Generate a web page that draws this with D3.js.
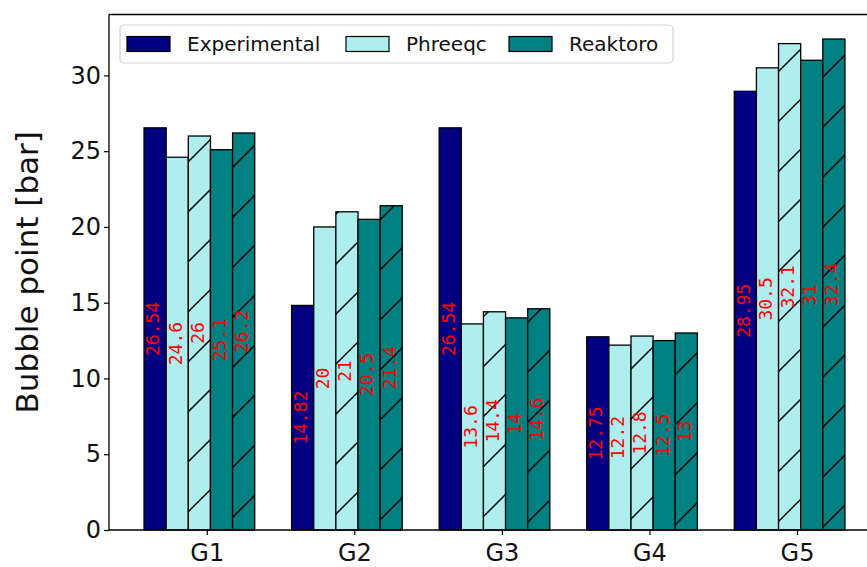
<!DOCTYPE html>
<html>
<head>
<meta charset="utf-8">
<script src="https://cdn.jsdelivr.net/npm/d3@7"></script>
<style>
  html, body { margin: 0; padding: 0; background: #fff; overflow: hidden; }
  svg { display: block; }
</style>
</head>
<body>
<svg id="chart" width="867" height="567"></svg>
<script>
// Bubble point per gas group: experiment versus two model codes
const groups = ["G1", "G2", "G3", "G4", "G5"];
const experimental    = [26.54, 14.82, 26.54, 12.75, 28.95];
const phreeqc         = [24.6, 20, 13.6, 12.2, 30.5];
const phreeqcAlt      = [26, 21, 14.4, 12.8, 32.1];
const reaktoro        = [25.1, 20.5, 14, 12.5, 31];
const reaktoroAlt     = [26.2, 21.4, 14.6, 13, 32.4];
const yTicks = [0, 5, 10, 15, 20, 25, 30];
const legendNames = ["Experimental", "Phreeqc", "Reaktoro"];

const barWidth = 0.15;
const series = [
  { values: experimental, offset: -0.35, fill: "#000080", hatch: false },
  { values: phreeqc,      offset: -0.20, fill: "#afeeee", hatch: false },
  { values: phreeqcAlt,   offset: -0.05, fill: "#afeeee", hatch: true },
  { values: reaktoro,     offset:  0.10, fill: "#008080", hatch: false },
  { values: reaktoroAlt,  offset:  0.25, fill: "#008080", hatch: true }
];
const legendFills = ["#000080", "#afeeee", "#008080"];

const plot = { left: 109, right: 880, top: 14.5, bottom: 530 };
const svg = d3.select("#chart");

const allVals = series.flatMap(s => s.values);
const xMin = -0.425, xMax = (groups.length - 1) + 0.325;
const xPad = (xMax - xMin) * 0.05;
const x = d3.scaleLinear().domain([xMin - xPad, xMax + xPad]).range([plot.left, plot.right]);
const y = d3.scaleLinear().domain([0, d3.max(allVals) * 1.05]).range([plot.bottom, plot.top]);

// diagonal hatch used on the second bar of each model
const defs = svg.append("defs");
["#afeeee", "#008080"].forEach((c, i) => {
  const p = defs.append("pattern")
    .attr("id", "hatch" + i)
    .attr("patternUnits", "userSpaceOnUse")
    .attr("width", 50).attr("height", 50);
  p.append("rect").attr("width", 50).attr("height", 50).attr("fill", c);
  p.append("path")
    .attr("d", "M0,50 L50,0 M-5,5 L5,-5 M45,55 L55,45")
    .attr("stroke", "#000").attr("stroke-width", 1.5).attr("fill", "none");
});

const bw = x(barWidth) - x(0);
const barsG = svg.append("g");
series.forEach((s, si) => {
  const fill = s.hatch ? `url(#hatch${s.fill === "#afeeee" ? 0 : 1})` : s.fill;
  barsG.selectAll(null)
    .data(s.values)
    .enter().append("rect")
    .attr("x", (d, i) => x(i + s.offset) - bw / 2)
    .attr("y", d => y(d))
    .attr("width", bw)
    .attr("height", d => y(0) - y(d))
    .attr("fill", fill)
    .attr("stroke", "#000")
    .attr("stroke-width", 1.3);
});

// value labels, rotated, halfway up each bar
const labelsG = svg.append("g");
series.forEach(s => {
  labelsG.selectAll(null)
    .data(s.values)
    .enter().append("text")
    .attr("transform", (d, i) => `translate(${x(i + s.offset)},${y(d / 2)}) rotate(-90)`)
    .attr("text-anchor", "middle")
    .attr("dominant-baseline", "central")
    .attr("dy", "-0.12em")
    .attr("font-family", "DejaVu Sans Mono")
    .attr("font-size", 18)
    .attr("fill", "red")
    .text(d => d);
});

// axes
const xAxis = d3.axisBottom(x)
  .tickValues(d3.range(groups.length))
  .tickFormat(i => groups[i])
  .tickSize(5).tickSizeOuter(0);
const gx = svg.append("g")
  .attr("transform", `translate(0,${plot.bottom})`)
  .call(xAxis);
gx.select(".domain").remove();
gx.selectAll("line").attr("stroke", "#000").attr("stroke-width", 1.2);
gx.selectAll("text")
  .attr("font-family", "DejaVu Sans")
  .attr("font-size", 24)
  .attr("fill", "#111")
  .attr("dy", "0.96em");

const yAxis = d3.axisLeft(y).tickValues(yTicks).tickSize(5).tickSizeOuter(0);
const gy = svg.append("g")
  .attr("transform", `translate(${plot.left},0)`)
  .call(yAxis);
gy.select(".domain").remove();
gy.selectAll("line").attr("stroke", "#000").attr("stroke-width", 1.2);
gy.selectAll("text")
  .attr("font-family", "DejaVu Sans")
  .attr("font-size", 24)
  .attr("fill", "#111")
  .attr("x", -8);

// frame
const frame = svg.append("g").attr("stroke", "#000").attr("stroke-width", 1.3).attr("fill", "none");
frame.append("line").attr("x1", plot.left).attr("x2", plot.left).attr("y1", plot.top).attr("y2", plot.bottom);
frame.append("line").attr("x1", plot.left).attr("x2", plot.right).attr("y1", plot.bottom).attr("y2", plot.bottom);
frame.append("line").attr("x1", plot.left).attr("x2", plot.right).attr("y1", plot.top).attr("y2", plot.top);
frame.append("line").attr("x1", plot.right).attr("x2", plot.right).attr("y1", plot.top).attr("y2", plot.bottom);

// y axis title
svg.append("text")
  .attr("transform", `translate(27,${(plot.top + plot.bottom) / 2}) rotate(-90)`)
  .attr("text-anchor", "middle")
  .attr("dominant-baseline", "central")
  .attr("font-family", "DejaVu Sans")
  .attr("font-size", 31)
  .attr("fill", "#111")
  .text("Bubble point [bar]");

// legend
const legend = svg.append("g").attr("transform", "translate(120,25)");
legend.append("rect")
  .attr("width", 553).attr("height", 38).attr("rx", 4)
  .attr("fill", "#fff").attr("fill-opacity", 0.8)
  .attr("stroke", "#d3d3d3").attr("stroke-width", 1.2);
const itemX = [7, 226, 389];
legendNames.forEach((name, i) => {
  const it = legend.append("g").attr("transform", `translate(${itemX[i]},0)`);
  it.append("rect")
    .attr("x", 0).attr("y", 11.5).attr("width", 43).attr("height", 15)
    .attr("fill", legendFills[i]).attr("stroke", "#000").attr("stroke-width", 1.2);
  it.append("text")
    .attr("x", 60).attr("y", 19)
    .attr("dominant-baseline", "central")
    .attr("font-family", "DejaVu Sans")
    .attr("font-size", 20)
    .attr("fill", "#111")
    .text(name);
});
</script>
</body>
</html>
